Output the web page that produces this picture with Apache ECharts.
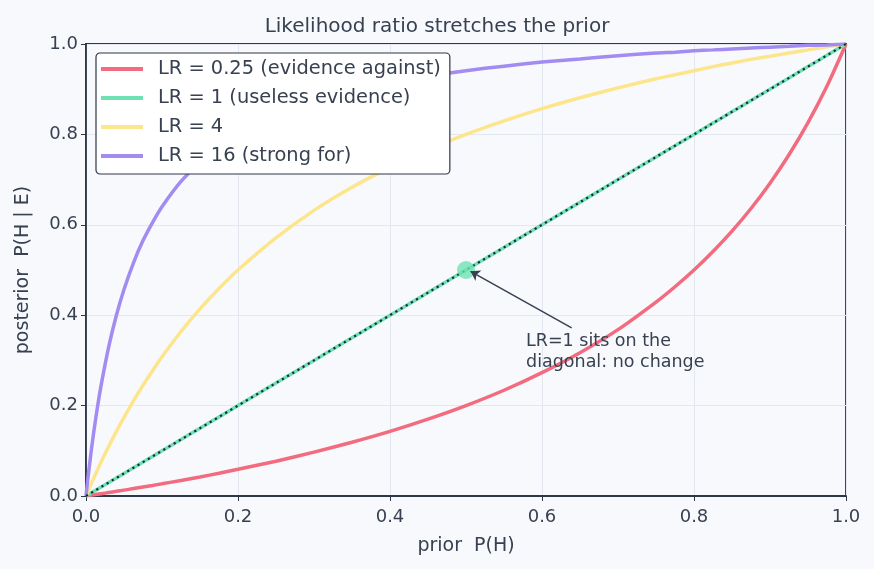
<!DOCTYPE html>
<html>
<head>
<meta charset="utf-8">
<script src="https://cdn.jsdelivr.net/npm/echarts@6/dist/echarts.min.js"></script>
<style>
  html, body { margin: 0; padding: 0; background: #f8f9fd; }
  #chart { width: 874px; height: 569px; }
</style>
</head>
<body>
<div id="chart"></div>
<script>
// prior values (x) shared by every curve
var prior = [0, 0.0025, 0.005, 0.0075, 0.01, 0.015, 0.02, 0.03, 0.04, 0.05, 0.0625, 0.075, 0.0875, 0.1,
             0.125, 0.15, 0.175, 0.2, 0.25, 0.3, 0.35, 0.4, 0.45, 0.5, 0.55, 0.6, 0.65, 0.7, 0.75,
             0.775, 0.8, 0.825, 0.85, 0.875, 0.9, 0.925, 0.95, 0.975, 1];
// posterior
var postLR025 = [0, 0.0006, 0.0013, 0.0019, 0.0025, 0.0038, 0.0051, 0.0077, 0.0103, 0.013, 0.0164, 0.020, 0.0234, 0.027,
                 0.0345, 0.042, 0.0504, 0.059, 0.077, 0.097, 0.119, 0.143, 0.170, 0.200, 0.234, 0.273, 0.317, 0.368, 0.429,
                 0.463, 0.500, 0.541, 0.586, 0.636, 0.692, 0.755, 0.826, 0.907, 1];
var postLR1 = [0, 0.0025, 0.005, 0.0075, 0.01, 0.015, 0.02, 0.03, 0.04, 0.05, 0.0625, 0.075, 0.0875, 0.1,
               0.125, 0.15, 0.175, 0.2, 0.25, 0.3, 0.35, 0.4, 0.45, 0.5, 0.55, 0.6, 0.65, 0.7, 0.75,
               0.775, 0.8, 0.825, 0.85, 0.875, 0.9, 0.925, 0.95, 0.975, 1];
var postLR4 = [0, 0.010, 0.020, 0.0293, 0.039, 0.0574, 0.076, 0.110, 0.143, 0.174, 0.2105, 0.245, 0.277, 0.308,
               0.364, 0.414, 0.459, 0.500, 0.571, 0.632, 0.683, 0.727, 0.766, 0.800, 0.830, 0.857, 0.881, 0.903, 0.923,
               0.932, 0.941, 0.950, 0.958, 0.966, 0.973, 0.980, 0.987, 0.994, 1];
var postLR16 = [0, 0.039, 0.074, 0.108, 0.139, 0.196, 0.246, 0.331, 0.400, 0.457, 0.516, 0.565, 0.605, 0.640,
                0.696, 0.738, 0.772, 0.800, 0.842, 0.873, 0.896, 0.914, 0.929, 0.941, 0.951, 0.960, 0.967, 0.974, 0.980,
                0.982, 0.985, 0.987, 0.989, 0.991, 0.993, 0.995, 0.997, 0.998, 1];
var names = ['LR = 0.25 (evidence against)', 'LR = 1 (useless evidence)', 'LR = 4', 'LR = 16 (strong for)'];
var colors = ['#f26b7f', '#6ee2b3', '#fde58c', '#a28cf1'];
var highlight = [0.5, 0.5];
var noteText = 'LR=1 sits on the\ndiagonal: no change';

function pairs(ys) {
  return prior.map(function (x, i) { return [x, ys[i]]; });
}

var textColor = '#374151';
var frame = '#2d3748';

var allPost = [postLR025, postLR1, postLR4, postLR16];
var series = allPost.map(function (ys, i) {
  return {
    name: names[i],
    type: 'line',
    data: pairs(ys),
    showSymbol: false,
    smooth: 0.25,
    lineStyle: { color: colors[i], width: 3.5 },
    itemStyle: { color: colors[i] },
    z: 2
  };
});

// dotted overlay on the diagonal
series.push({
  name: 'diag',
  type: 'line',
  data: pairs(postLR1),
  showSymbol: false,
  lineStyle: { color: '#1f2937', width: 2.2, type: [2.2, 3.8] },
  z: 3
});

// highlighted point + annotation
series.push({
  name: 'point',
  type: 'scatter',
  data: [highlight],
  symbolSize: 18,
  itemStyle: { color: '#6ee2b3' },
  z: 4,
  markLine: {
    silent: true,
    symbol: ['none', 'arrow'],
    symbolSize: 9,
    lineStyle: { color: '#374151', width: 1.5, type: 'solid' },
    label: { show: false },
    data: [[{ coord: [0.639, 0.372] }, { coord: [0.506, 0.497] }]]
  },
  markPoint: {
    symbol: 'circle',
    symbolSize: 0,
    label: {
      show: true,
      position: [0, 0],
      align: 'left',
      verticalAlign: 'top',
      formatter: noteText,
      color: textColor,
      fontSize: 17.5,
      lineHeight: 21
    },
    data: [{ coord: [0.579, 0.365] }]
  }
});

var option = {
  backgroundColor: '#f8f9fd',
  animation: false,
  textStyle: { fontFamily: 'DejaVu Sans' },
  title: {
    text: 'Likelihood ratio stretches the prior',
    left: 'center',
    top: 12,
    textStyle: { color: textColor, fontSize: 20, fontWeight: 'normal', fontFamily: 'DejaVu Sans' }
  },
  legend: {
    data: names,
    orient: 'vertical',
    left: 96,
    top: 53,
    padding: [5, 9, 7, 5],
    itemGap: 7,
    itemWidth: 42,
    itemHeight: 4,
    icon: 'rect',
    backgroundColor: '#ffffff',
    borderColor: frame,
    borderWidth: 1.2,
    borderRadius: 4,
    textStyle: { color: textColor, fontSize: 19.4, lineHeight: 22, padding: [0, 0, 0, 10], fontFamily: 'DejaVu Sans' }
  },
  grid: {
    left: 86, right: 28, top: 44, bottom: 73,
    show: true,
    borderColor: frame,
    borderWidth: 1.8,
    backgroundColor: 'transparent'
  },
  xAxis: {
    type: 'value',
    min: 0, max: 1, interval: 0.2,
    name: 'prior  P(H)',
    nameLocation: 'middle',
    nameGap: 41,
    nameTextStyle: { color: textColor, fontSize: 19 },
    axisLine: { show: true, lineStyle: { color: frame, width: 1.8 } },
    axisTick: { show: true, length: 5, lineStyle: { color: frame } },
    axisLabel: { color: textColor, fontSize: 18, margin: 12, formatter: function (v) { return v.toFixed(1); } },
    splitLine: { show: true, lineStyle: { color: '#e3e7ef', width: 1 } }
  },
  yAxis: {
    type: 'value',
    min: 0, max: 1, interval: 0.2,
    name: 'posterior  P(H | E)',
    nameLocation: 'middle',
    nameGap: 53,
    nameTextStyle: { color: textColor, fontSize: 19 },
    axisLine: { show: true, lineStyle: { color: frame, width: 1.8 } },
    axisTick: { show: true, length: 5, lineStyle: { color: frame } },
    axisLabel: { color: textColor, fontSize: 18, margin: 8, formatter: function (v) { return v.toFixed(1); } },
    splitLine: { show: true, lineStyle: { color: '#e3e7ef', width: 1 } }
  },
  series: series
};

var myChart = echarts.init(document.getElementById('chart'));
myChart.setOption(option);
</script>
</body>
</html>
